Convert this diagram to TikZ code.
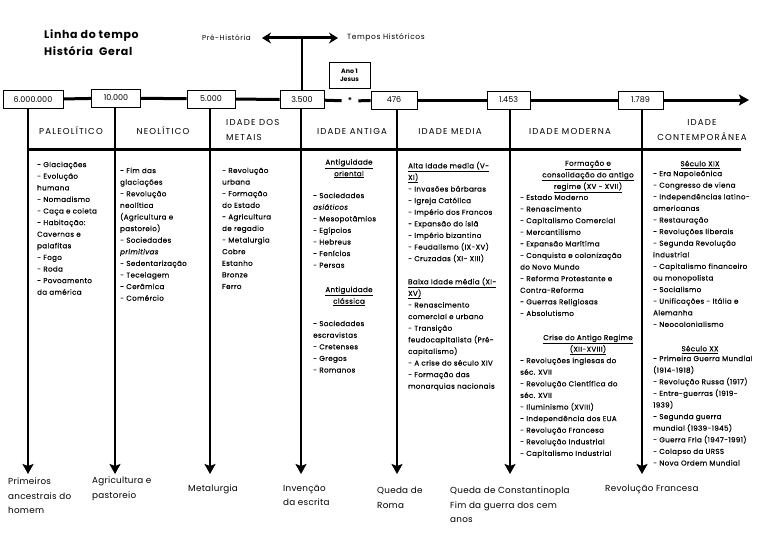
\documentclass[tikz,border=0pt]{standalone}
\usepackage{fontspec}
\setmainfont{Poppins}
\usetikzlibrary{arrows.meta, positioning}

\begin{document}
\begin{tikzpicture}[x=1pt, y=-1pt,
        yearbox/.style={draw, line width=0.8pt, minimum height=18pt, inner xsep=2pt, font=\fontsize{8}{9}\selectfont},
        axis/.style={line width=3pt},
        drop/.style={line width=2.6pt, -{Stealth[length=10pt, width=11pt, inset=2pt]}},
        era/.style={align=center, inner sep=0pt, font=\fontsize{8.6}{15}\selectfont\addfontfeatures{LetterSpace=14}},
        col/.style={anchor=north west, align=left, inner sep=0pt, font=\fontsize{7.1}{11.6}\selectfont\addfontfeatures{LetterSpace=5,FakeBold=0.4}},
        head/.style={anchor=north, align=center, inner sep=0pt, font=\fontsize{7.1}{11.6}\selectfont\addfontfeatures{LetterSpace=5,FakeBold=0.4}},
        caption/.style={anchor=north west, align=left, inner sep=0pt, font=\fontsize{8.8}{14.5}\selectfont\addfontfeatures{LetterSpace=3}}
    ]
        \useasboundingbox (0,0) rectangle (768,543);

        % Title
        \node[anchor=north west, align=left, inner sep=0pt, font=\fontsize{11}{17}\selectfont\bfseries\addfontfeatures{LetterSpace=6}] (title) at (44,29) {Linha do tempo\\História\ \ Geral};

        % Pre-history / history split
        \node[anchor=east, inner sep=0pt, font=\fontsize{7.2}{9}\selectfont\addfontfeatures{LetterSpace=8}] (pre) at (251,38) {Pré-História};
        \node[anchor=west, inner sep=0pt, font=\fontsize{7.5}{9}\selectfont\addfontfeatures{LetterSpace=8}] (hist) at (347,38) {Tempos Históricos};

        % Years on the line
        \node[yearbox, minimum width=60pt] (b6m) at (33,99.5) {6.000.000};
        \node[yearbox, minimum width=49pt] (b10k) at (116,98) {10.000};
        \node[yearbox, minimum width=48pt] (b5k) at (211,99) {5.000};
        \node[yearbox, minimum width=44pt] (b3500) at (302,99.5) {3.500};
        \node[yearbox, minimum width=46pt] (b476) at (394,100) {476};
        \node[yearbox, minimum width=43pt] (b1453) at (508.5,100) {1.453};
        \node[yearbox, minimum width=45pt] (b1789) at (640.5,100) {1.789};
        \node[yearbox, minimum width=41pt, minimum height=26pt, align=center, font=\fontsize{6.3}{8.5}\selectfont\bfseries] (ano1) at (349.5,75) {Ano 1\\Jesus};
        \node[inner sep=6pt, font=\fontsize{8}{9}\selectfont\bfseries] (star) at (350,101) {*};
        \coordinate (tend) at (749,100);
        \coordinate (foot) at (0,474);

        \draw[axis, {Stealth[length=9pt, width=11pt]}-{Stealth[length=9pt, width=11pt]}, shorten <=11pt, shorten >=9pt] (pre.east) -- (hist.west);
        \draw[line width=2.5pt] (b3500.north) -- (b3500.north |- pre.east);

        \draw[axis] (b6m) -- (b10k) -- (b5k) -- (b3500);
        \draw[axis] (b3500) -- (star) -- (b476);
        \draw[axis] (b476) -- (b1453) -- (b1789);
        \draw[axis, -{Stealth[length=10pt, width=11pt, inset=2pt]}] (b1789) -- (tend);

        % Drops to events
        \draw[drop] ([xshift=-5pt]b6m.south) -- ([xshift=-5pt]b6m.south |- foot);
        \draw[drop] ([xshift=-1pt]b10k.south) -- ([xshift=-1pt]b10k.south |- foot);
        \draw[drop] ([xshift=-1pt]b5k.south) -- ([xshift=-1pt]b5k.south |- foot);
        \draw[drop] ([xshift=-1pt]b3500.south) -- ([xshift=-1pt]b3500.south |- foot);
        \draw[drop] ([xshift=3pt]b476.south) -- ([xshift=3pt]b476.south |- foot);
        \draw[drop] ([xshift=1.5pt]b1453.south) -- ([xshift=1.5pt]b1453.south |- foot);
        \draw[drop] ([xshift=1.5pt]b1789.south) -- ([xshift=1.5pt]b1789.south |- foot);

        % Header row
        \draw[line width=2.5pt] (28,149.5) -- (741,149.5);
        \node[era] (paleo) at (71,131) {PALEOLÍTICO};
        \node[era] (neo) at (163,131) {NEOLÍTICO};
        \node[era, align=left, anchor=west] (metais) at (226,130) {IDADE DOS\\METAIS};
        \node[era] (antiga) at (352,131) {IDADE ANTIGA};
        \node[era] (media) at (450,131) {IDADE MEDIA};
        \node[era] (moderna) at (570,131) {IDADE MODERNA};
        \node[era] (contemp) at (702,130) {IDADE\\CONTEMPORÂNEA};

        % Columns
        \node[col] (cPaleo) at (37,161.5) {- Glaciações\\- Evolução\\humana\\- Nomadismo\\- Caça e coleta\\- Habitação:\\Cavernas e\\palafitas\\- Fogo\\- Roda\\- Povoamento\\da américa};
        \node[col] (cNeo) at (120,167.5) {- Fim das\\glaciações\\- Revolução\\neolítica\\(Agricultura e\\pastoreio)\\- Sociedades\\\textit{primitivas}\\- Sedentarização\\- Tecelagem\\- Cerâmica\\- Comércio};
        \node[col] (cMetais) at (222,167.5) {- Revolução\\urbana\\- Formação\\do Estado\\- Agricultura\\de regadio\\- Metalurgia\\Cobre\\Estanho\\Bronze\\Ferro};

        \node[head] (hOriental) at (349,159) {\underline{Antiguidade}\\\underline{oriental}};
        \node[col] (cOriental) at (313,192.5) {- Sociedades\\\textit{asiáticos}\\- Mesopotâmios\\- Egípcios\\- Hebreus\\- Fenícios\\- Persas};
        \node[head] (hClassica) at (349,286.5) {\underline{Antiguidade}\\\underline{clássica}};
        \node[col] (cClassica) at (313,320.5) {- Sociedades\\escravistas\\- Cretenses\\- Gregos\\- Romanos};

        \node[col] (cAlta) at (408,161.5) {\underline{Alta Idade media (V-}\\\underline{XI)}\\- Invasões bárbaras\\- Igreja Católica\\- Império dos Francos\\- Expansão do islã\\- Império bizantino\\- Feudalismo (IX-XV)\\- Cruzadas (XI- XIII)};
        \node[col] (cBaixa) at (408,277.5) {\underline{Baixa Idade média (XI-}\\\underline{XV)}\\- Renascimento\\comercial e urbano\\- Transição\\feudocapitalista (Pré-\\capitalismo)\\- A crise do século XIV\\- Formação das\\monarquias nacionais};

        \node[head] (hFormacao) at (588,160.5) {\underline{Formação e}\\\underline{consolidação do antigo}\\\underline{regime (XV - XVII)}};
        \node[col] (cFormacao) at (520,194.5) {- Estado Moderno\\- Renascimento\\- Capitalismo Comercial\\- Mercantilismo\\- Expansão Marítima\\- Conquista e colonização\\do Novo Mundo\\- Reforma Protestante e\\Contra-Reforma\\- Guerras Religiosas\\- Absolutismo};
        \node[head] (hCrise) at (588,334.5) {\underline{Crise do Antigo Regime}\\\underline{(XII-XVIII)}};
        \node[col] (cCrise) at (520,357.5) {- Revoluções inglesas do\\séc. XVII\\- Revolução Científica do\\séc. XVII\\- Iluminismo (XVIII)\\- Independência dos EUA\\- Revolução Francesa\\- Revolução Industrial\\- Capitalismo Industrial};

        \node[head] (hXIX) at (700,160.5) {\underline{Século XIX}};
        \node[col] (cXIX) at (653,170.5) {- Era Napoleônica\\- Congresso de viena\\- Independências latino-\\americanas\\- Restauração\\- Revoluções liberais\\- Segunda Revolução\\industrial\\- Capitalismo financeiro\\ou monopolista\\- Socialismo\\- Unificações - Itália e\\Alemanha\\- Neocolonialismo};
        \node[head] (hXX) at (700,345.5) {\underline{Século XX}};
        \node[col] (cXX) at (653,355.5) {- Primeira Guerra Mundial\\(1914-1918)\\- Revolução Russa (1917)\\- Entre-guerras (1919-\\1939)\\- Segunda guerra\\mundial (1939-1945)\\- Guerra Fria (1947-1991)\\- Colapso da URSS\\- Nova Ordem Mundial};

        % Events
        \node[caption] (e1) at (8,478) {Primeiros\\ancestrais do\\homem};
        \node[caption] (e2) at (92,477) {Agricultura e\\pastoreio};
        \node[caption] (e3) at (188,485) {Metalurgia};
        \node[caption] (e4) at (283,485) {Invenção\\da escrita};
        \node[caption] (e5) at (377,487) {Queda de\\Roma};
        \node[caption] (e6) at (450,487) {Queda de Constantinopla\\Fim da guerra dos cem\\anos};
        \node[caption] (e7) at (605,485) {Revolução Francesa};

    \end{tikzpicture}
\end{document}
